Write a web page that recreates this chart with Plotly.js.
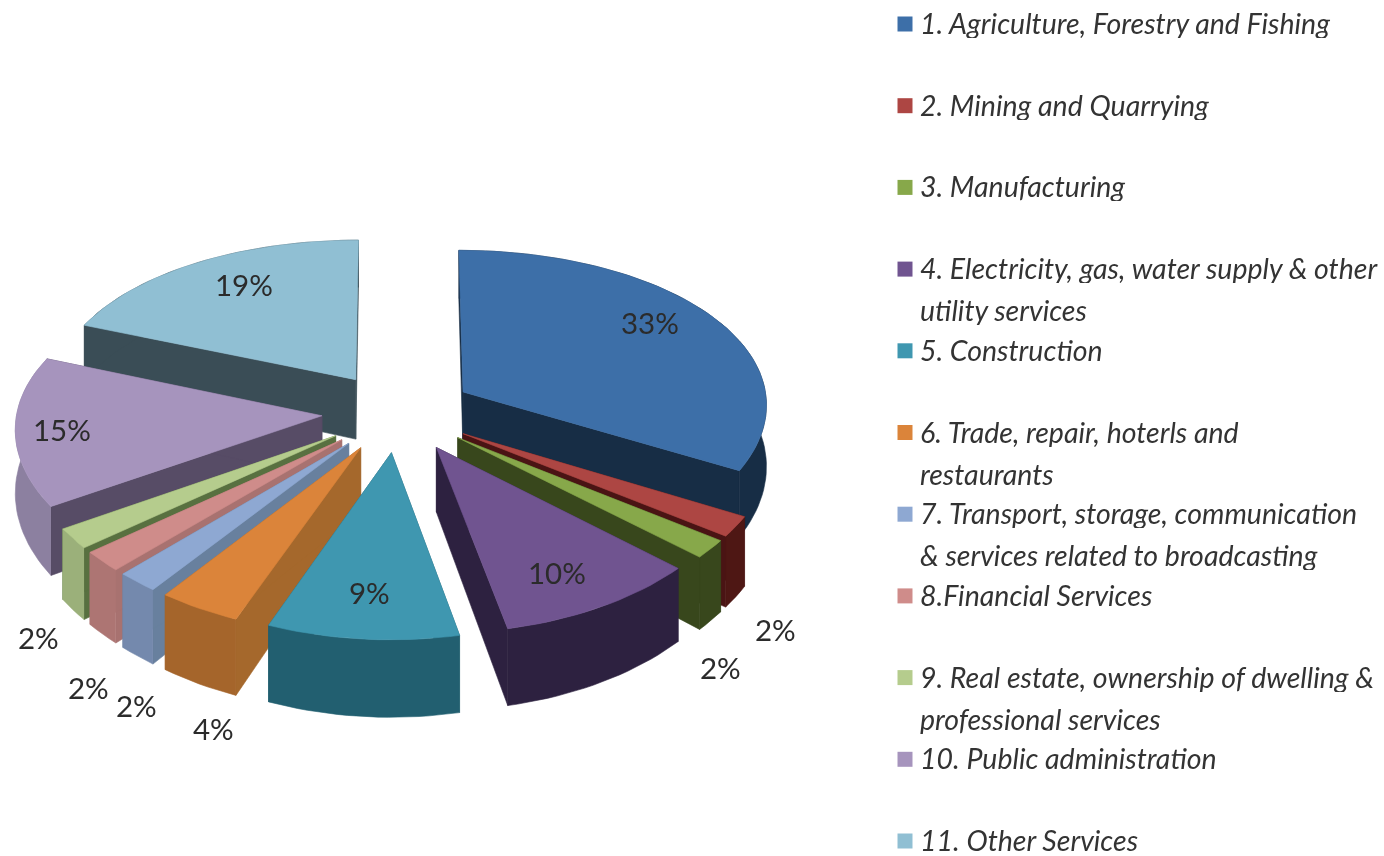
<!DOCTYPE html>
<html><head><meta charset="utf-8">
<script src="https://cdn.plot.ly/plotly-3.0.1.min.js"></script>
<style>html,body{margin:0;background:#fff}#c{width:1384px;height:856px;filter:blur(0.6px)}</style></head>
<body><div id="c"></div>
<script>
const sectors = ["1. Agriculture, Forestry and Fishing","2. Mining and Quarrying","3. Manufacturing","4. Electricity, gas, water supply & other<br>utility services","5. Construction","6. Trade, repair, hoterls and<br>restaurants","7. Transport, storage, communication<br>& services related to broadcasting","8.Financial Services","9. Real estate, ownership of dwelling &<br>professional services","10. Public administration","11. Other Services"];
const shares = [33,2,1.8,9.9,9.3,4,2,2,2,15,19];
const topColors = ["#3d6fa8","#ad4643","#87a84a","#705490","#3f97b0","#db843a","#8ea8d2","#cf8c8a","#b5cc8d","#a694bd","#90bfd3"];
const radialColors = ["#172d45","#4a1414","#38471c","#2d2140","#22606f","#a5682c","#68809e","#a87270","#587040","#574c66","#3a4d56"];
const outerColors = ["#172d45","#4e1714","#38471c","#2d2140","#225f70","#a5652b","#7489ad","#ad7573","#9bb07a","#8c80a0","#3a4d56"];

// layout of the percentage labels (style, not data)
const labelPlaces = [[650,322],[775,629],[720,667],[557,572],[369,592],[213,728],[136,705],[88,687],[38,637],[62,429],[244,284]];

const view = {cx:398,cy:412,a:305,b:159.6,kx:0.07,ky:0.1,h:62,hk:0.2,pull:0.25};
const project = (X,Y,low) => {
  const fx = 1/(1-view.kx*Y), fy = 1/(1-view.ky*Y);
  return [view.cx+view.a*X*fx, view.cy+view.b*Y*fy+(low?view.h*(1+view.hk*Y):0)];
};
const rad = p => p/100*2*Math.PI;
let cum=0;
const slices = shares.map((v,i)=>{const s={i,start:cum,end:cum+v,mid:cum+v/2};cum+=v;return s;});
const polar = (s,th,r)=>{
  const m=rad(s.mid);
  return [view.pull*Math.sin(m)+r*Math.sin(th), -view.pull*Math.cos(m)-r*Math.cos(th)];
};
const traces=[];
const poly=(xs,ys,color)=>traces.push({type:'scatter',mode:'lines',x:xs,y:ys,fill:'toself',fillcolor:color,line:{color:color,width:0.6},hoverinfo:'skip',showlegend:false});
const quad=(p,q)=>{
  const a=project(p[0],p[1],false),b=project(q[0],q[1],false),c=project(q[0],q[1],true),d=project(p[0],p[1],true);
  return [[a[0],b[0],c[0],d[0],a[0]],[a[1],b[1],c[1],d[1],a[1]]];
};
[...slices].sort((p,q)=>(-Math.cos(rad(p.mid)))-(-Math.cos(rad(q.mid)))).forEach(s=>{
  const n=Math.max(4,Math.round((s.end-s.start)*2));
  const arc=[];for(let j=0;j<=n;j++){arc.push(polar(s,rad(s.start+(s.end-s.start)*j/n),1));}
  const apex=polar(s,0,0);
  [[apex,arc[0]],[apex,arc[n]]].forEach(e=>{const q=quad(e[0],e[1]);poly(q[0],q[1],radialColors[s.i]);});
  const lowPts=arc.map(p=>project(p[0],p[1],true)), hiPts=arc.map(p=>project(p[0],p[1],false));
  const wall=hiPts.concat(lowPts.slice().reverse());
  poly(wall.map(p=>p[0]),wall.map(p=>p[1]),outerColors[s.i]);
  const top=[apex].concat(arc,[apex]).map(p=>project(p[0],p[1],false));
  poly(top.map(p=>p[0]),top.map(p=>p[1]),topColors[s.i]);
});
const annotations=[];
slices.forEach(s=>{
  const p=labelPlaces[s.i];
  annotations.push({x:p[0],y:p[1],text:Math.round(shares[s.i])+'%',showarrow:false,font:{family:'Lato',size:29.5,color:'#2b2b2b'},xanchor:'center',yanchor:'middle'});
});
const legendY=sectors.map((_,i)=>24+81.7*i);
traces.push({type:'scatter',mode:'markers',x:sectors.map(()=>905),y:legendY,marker:{symbol:'square',size:15,color:topColors},hoverinfo:'skip',showlegend:false});
sectors.forEach((t,i)=>t.split('<br>').forEach((line,j)=>{
  annotations.push({x:918,y:legendY[i]+j*42-1,height:30,valign:'middle',text:line,showarrow:false,xanchor:'left',yanchor:'middle',font:{family:'Lato',size:28.5,style:'italic',color:'#333'}});
}));
Plotly.newPlot('c',traces,{
  width:1384,height:856,margin:{l:0,r:0,t:0,b:0},paper_bgcolor:'#fff',plot_bgcolor:'#fff',
  xaxis:{range:[0,1384],visible:false,fixedrange:true},
  yaxis:{range:[856,0],visible:false,fixedrange:true},
  annotations,showlegend:false
},{displayModeBar:false,staticPlot:true});
</script></body></html>
